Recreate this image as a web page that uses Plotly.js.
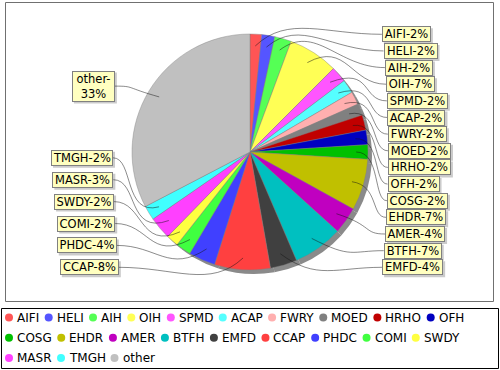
<!DOCTYPE html>
<html><head><meta charset="utf-8">
<script src="https://cdn.plot.ly/plotly-3.0.1.min.js"></script>
<style>html,body{margin:0;padding:0;background:#fff}#chart{width:500px;height:370px}</style>
</head><body><div id="chart"></div>
<script>
// ---- data ----
const categories = ['AIFI','HELI','AIH','OIH','SPMD','ACAP','FWRY','MOED','HRHO','OFH','COSG','EHDR','AMER','BTFH','EMFD','CCAP','PHDC','COMI','SWDY','MASR','TMGH','other'];
const shares = [1.6,1.8,2.3,6.9,2.2,1.9,1.8,1.6,2.1,2.0,2.0,7.1,3.7,6.9,3.7,7.7,3.7,2.1,1.7,3.1,2.0,32.9];
const colors = ['#FF5555','#5555FF','#55FF55','#FFFF55','#FF55FF','#55FFFF','#FFAFAF','#808080','#C00000','#0000C0','#00C000','#C0C000','#C000C0','#00C0C0','#404040','#FF4040','#4040FF','#40FF40','#FFFF40','#FF40FF','#40FFFF','#C0C0C0'];

// ---- layout geometry ----
const W=500,H=370, CX=250, CY=152, R=118;
const px = x => x/W, py = y => 1 - y/H;
const FONT = 'DejaVu Sans';
const LFS = 11.5;

const total = shares.reduce((a,b)=>a+b,0);
let cum=0; const mids=[];
shares.forEach(v=>{ mids.push((cum + v/2)/total*360); cum+=v; });
const pcts = shares.map(v=>Math.round(v/total*100)+'%');

const shapes=[], annotations=[];
const ctx = document.createElement('canvas').getContext('2d');

// outlines
shapes.push({type:'rect',xref:'paper',yref:'paper',x0:px(5.5),x1:px(493.5),y0:py(301.5),y1:py(2.5),line:{color:'#707070',width:1},layer:'below'});
shapes.push({type:'rect',xref:'paper',yref:'paper',x0:px(1.5),x1:px(498.5),y0:py(368.5),y1:py(308.5),line:{color:'#000',width:1},layer:'below'});

// label placement
const rightIdx=[], leftIdx=[];
mids.forEach((m,i)=> (m<180?rightIdx:leftIdx).push(i));
const labelY = {};
{
  const top=34.3, bot=267.3, step=(bot-top)/(rightIdx.length-1);
  rightIdx.forEach((i,k)=>{ labelY[i] = top + k*step; });
}
{
  const bot=267.3, step=21.9;
  let prev = bot + step;
  leftIdx.forEach(i=>{
    const nat = CY - 127*Math.cos(mids[i]*Math.PI/180);
    let y = Math.min(nat, prev-step, bot);
    labelY[i]=y; prev=y;
  });
}
const ellX = (y, r) => r*Math.sqrt(Math.max(0,1-Math.pow((y-CY)/400,2)));

ctx.font = LFS + 'px "DejaVu Sans"';
categories.forEach((c,i)=>{
  const right = mids[i]<180;
  const y = labelY[i];
  const ex = right ? CX + ellX(y,138) : CX - ellX(y,137);
  const isOther = c==='other';
  const lines = isOther ? [c+'-', pcts[i]] : [c+'-'+pcts[i]];
  const tw = Math.ceil(Math.max(...lines.map(l=>ctx.measureText(l).width))) + (isOther?4:1);
  const th = isOther ? 27 : 12;
  const bw = tw + 4, bh = th + 4;
  const bx0 = right ? ex : ex - bw;
  shapes.push({type:'rect',xref:'paper',yref:'paper',x0:px(bx0+2),x1:px(bx0+bw+2),y0:py(y+bh/2+2),y1:py(y-bh/2+2),
    fillcolor:'rgba(151,151,151,0.5)',line:{width:0}});
  annotations.push({xref:'paper',yref:'paper',x:px(ex),y:py(y),xanchor:right?'left':'right',yanchor:'middle',
    text:lines.join('<br>'), showarrow:false, align:'center', width:tw, height:th, valign:'middle',
    borderwidth:1, borderpad:1, font:{family:FONT,size:LFS,color:'#000'},bgcolor:'#FFFFC0',bordercolor:'#808080'});
  // leader line
  const ang = mids[i]*Math.PI/180;
  const ux=Math.sin(ang), uy=-Math.cos(ang);
  const Lx = CX + 0.9*R*ux, Ly = CY + 0.9*R*uy;
  const s = right?1:-1;
  let dx = ux + s, dy = uy; const n=Math.hypot(dx,dy); dx/=n; dy/=n;
  const D = Math.abs(ex - Lx);
  const len = Math.min(45, 0.8*D);
  const P2x = Lx + len*dx, P2y = Ly + len*dy;
  const P1x = ex - s*0.45*D, P1y = y;
  const path = `M${px(ex)},${py(y)} C${px(P1x)},${py(P1y)} ${px(P2x)},${py(P2y)} ${px(Lx)},${py(Ly)}`;
  shapes.push({type:'path',xref:'paper',yref:'paper',path:path,line:{color:'rgba(20,20,20,0.7)',width:0.7}});
});

// legend
ctx.font = '12px "DejaVu Sans"';
let lx = 9, ly = 317.5; const rowStep = 20.3;
categories.forEach((c,i)=>{
  const tw = ctx.measureText(c).width;
  if (lx + 8 + tw > 495) { lx = 9; ly += rowStep; }
  shapes.push({type:'circle',xref:'paper',yref:'paper',x0:px(lx-4),x1:px(lx+4),y0:py(ly+4),y1:py(ly-4),fillcolor:colors[i],line:{width:0}});
  annotations.push({xref:'paper',yref:'paper',x:px(lx+8),y:py(ly),xanchor:'left',yanchor:'middle',text:c,showarrow:false,borderpad:0,borderwidth:0,font:{family:FONT,size:12,color:'#000'}});
  lx += 8 + tw + 9.5;
});

const shadow = {type:'pie', values:shares, labels:categories, sort:false, direction:'clockwise', rotation:0,
  textinfo:'none', hoverinfo:'skip', showlegend:false, automargin:false,
  marker:{colors:categories.map(()=> '#8a8a8a'), line:{width:0}},
  domain:{x:[px(CX-R+4),px(CX+R+4)], y:[py(CY+R+4),py(CY-R+4)]}};
const pie = {type:'pie', values:shares, labels:categories, sort:false, direction:'clockwise', rotation:0,
  textinfo:'none', hoverinfo:'skip', showlegend:false, automargin:false,
  marker:{colors:colors, line:{color:'rgba(128,128,128,0.8)',width:0.5}},
  domain:{x:[px(CX-R),px(CX+R)], y:[py(CY+R),py(CY-R)]}};

Plotly.newPlot('chart',[shadow,pie],{
  width:W,height:H,margin:{l:0,r:0,t:0,b:0},paper_bgcolor:'#fff',showlegend:false,
  shapes:shapes, annotations:annotations, font:{family:FONT}
},{staticPlot:true,displayModeBar:false});
</script></body></html>
